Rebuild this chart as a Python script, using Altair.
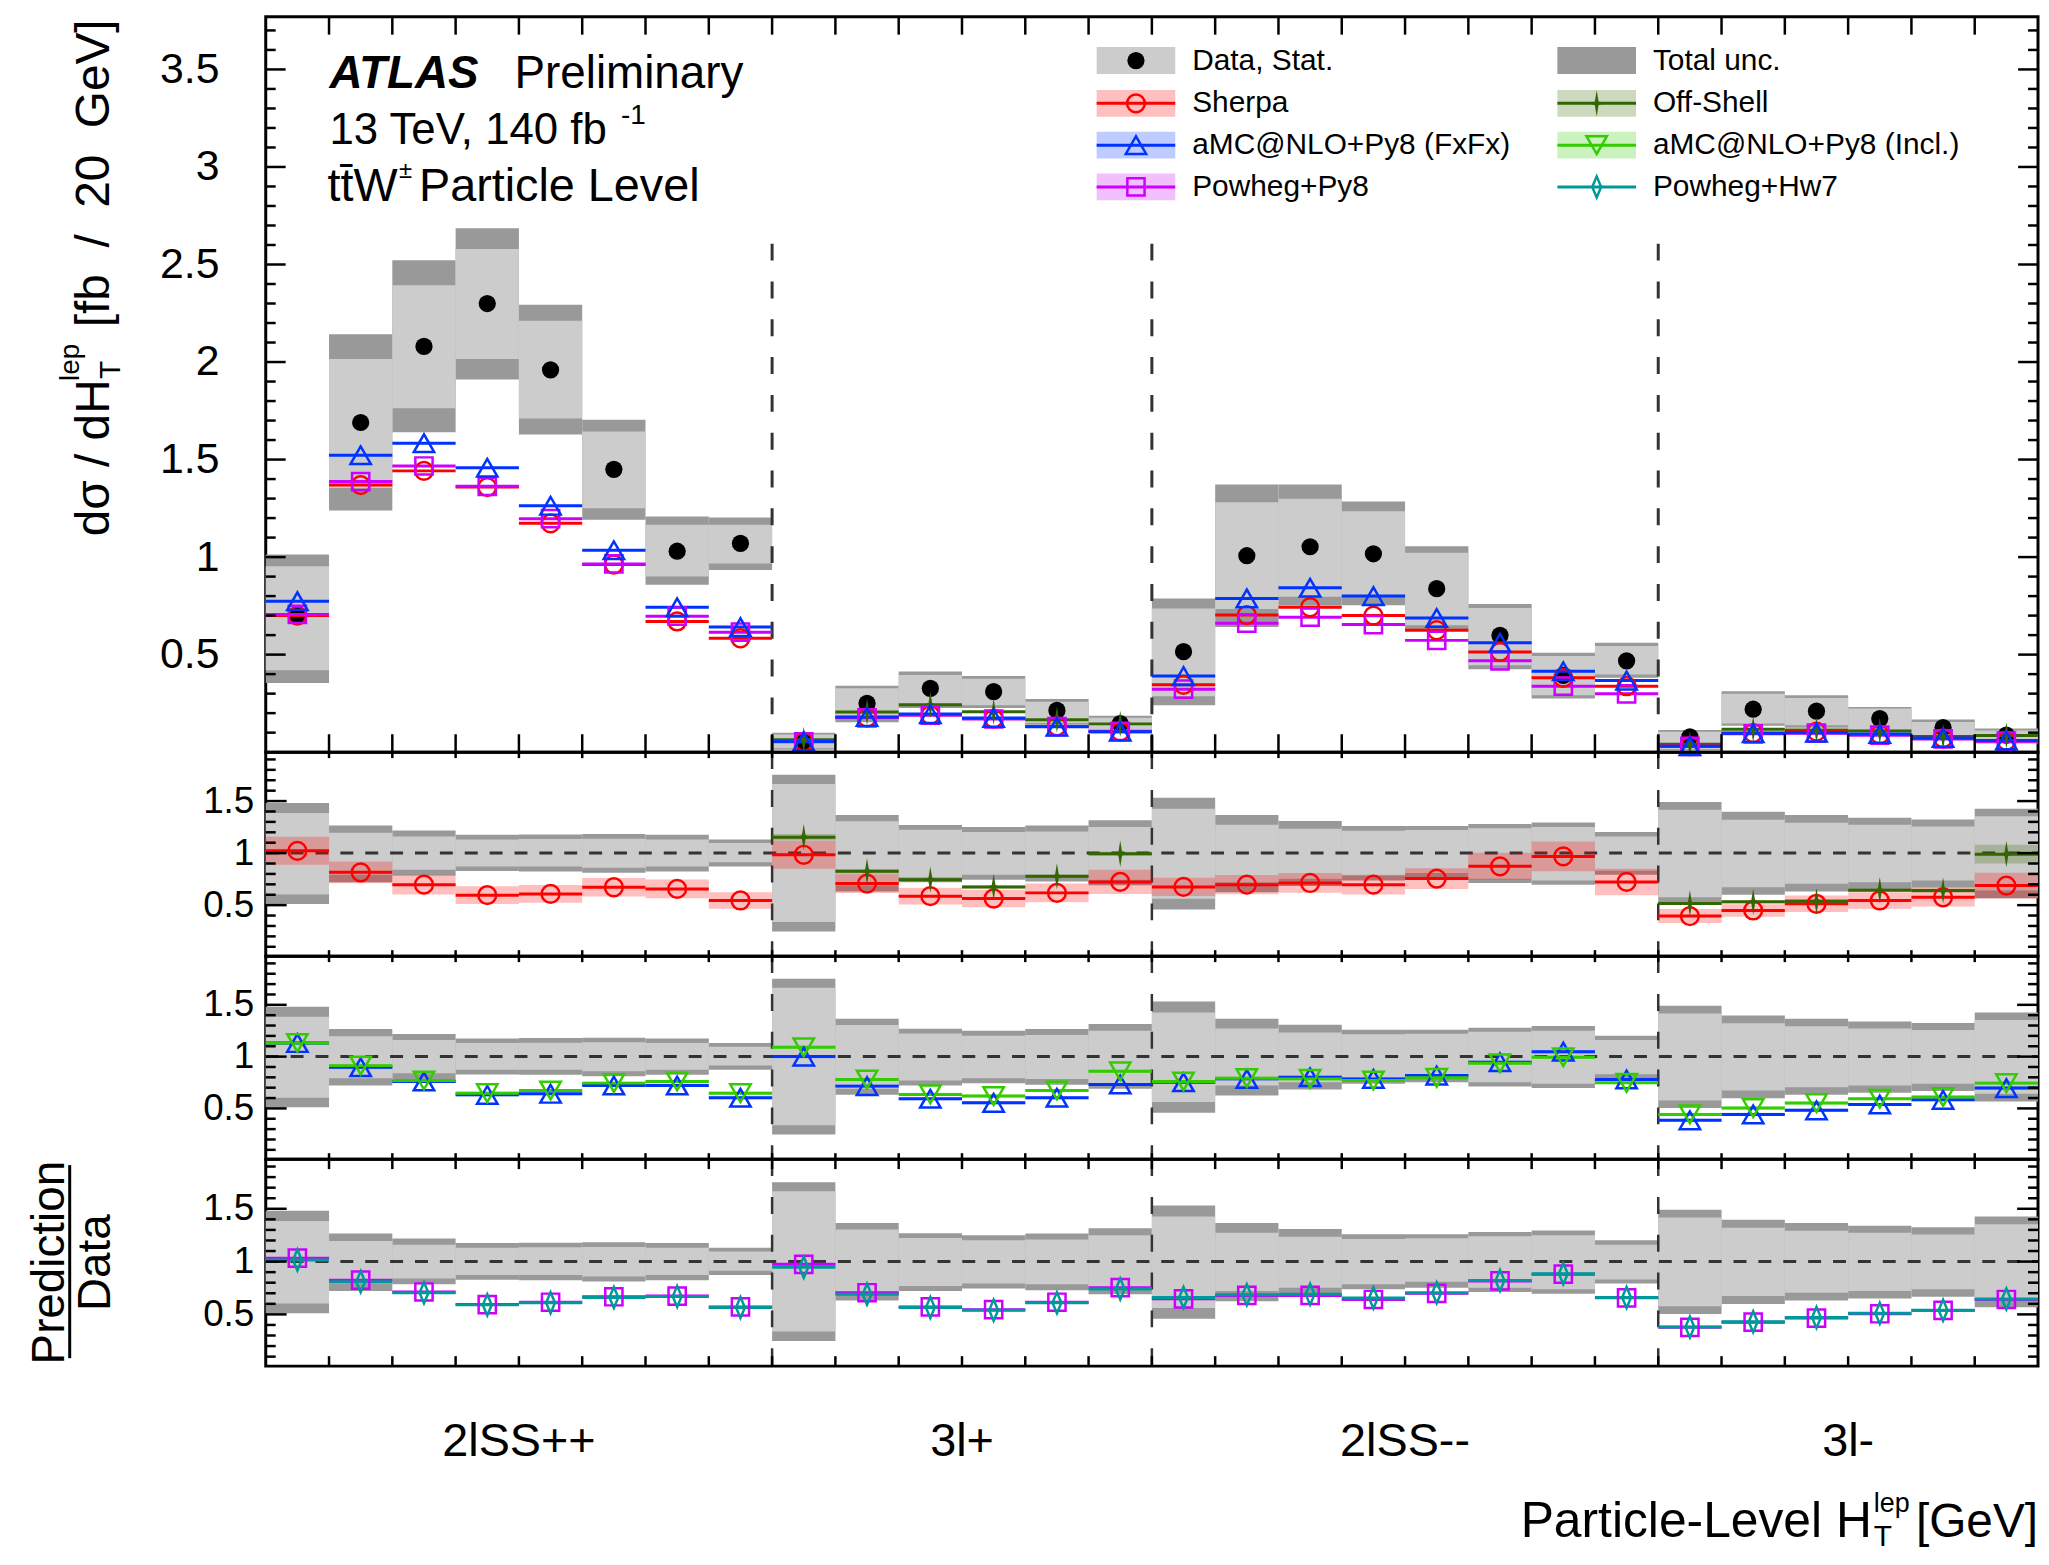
import altair as alt
import pandas as pd

FONT = "Liberation Sans"
W = 1781
H_TOP, H_R1, H_R2, H_R3 = 739, 205, 204, 208
N_BINS = 28

region_labels = ["2lSS++", "3l+", "2lSS--", "3l-"]
region_centers = [4, 11, 18, 25]
divider_edges = [8, 14, 22]
three_lep_bins = [8, 9, 10, 11, 12, 13, 22, 23, 24, 25, 26, 27]

# ---------------- top panel: d sigma / dHT [fb / 20 GeV]
data_xs = [0.70, 1.69, 2.08, 2.30, 1.96, 1.45, 1.03, 1.07,
           0.055, 0.25, 0.327, 0.31, 0.214, 0.146,
           0.515, 1.007, 1.053, 1.017, 0.838, 0.599, 0.394, 0.468,
           0.078, 0.22, 0.21, 0.172, 0.126, 0.087]
tot_hi = [1.013, 2.142, 2.522, 2.686, 2.294, 1.704, 1.208, 1.203,
          0.10, 0.341, 0.414, 0.39, 0.272, 0.186,
          0.788, 1.372, 1.372, 1.285, 1.056, 0.759, 0.51, 0.561,
          0.114, 0.312, 0.292, 0.232, 0.167, 0.121]
stat_hi = [0.953, 2.016, 2.394, 2.58, 2.212, 1.644, 1.166, 1.166,
           0.09, 0.328, 0.396, 0.376, 0.259, 0.177,
           0.737, 1.281, 1.299, 1.235, 1.022, 0.739, 0.493, 0.544,
           0.104, 0.299, 0.278, 0.224, 0.155, 0.111]
stat_lo = [0.42, 1.354, 1.763, 2.015, 1.71, 1.25, 0.901, 0.967,
           0.02, 0.168, 0.241, 0.241, 0.15, 0.113,
           0.286, 0.734, 0.797, 0.804, 0.65, 0.445, 0.292, 0.398,
           0.015, 0.147, 0.138, 0.115, 0.087, 0.053]
tot_lo = [0.354, 1.239, 1.64, 1.911, 1.628, 1.192, 0.858, 0.934,
          0.012, 0.153, 0.226, 0.226, 0.14, 0.104,
          0.241, 0.642, 0.752, 0.753, 0.625, 0.425, 0.275, 0.381,
          0.008, 0.135, 0.125, 0.104, 0.078, 0.044]
sherpa_xs = [0.70, 1.369, 1.442, 1.359, 1.173, 0.962, 0.670, 0.584,
             0.054, 0.177, 0.19, 0.172, 0.132, 0.105,
             0.345, 0.703, 0.743, 0.70, 0.625, 0.514, 0.381, 0.338,
             0.031, 0.098, 0.105, 0.09, 0.071, 0.058]
fxfx_xs = [0.774, 1.522, 1.584, 1.458, 1.263, 1.035, 0.743, 0.641,
           0.055, 0.18, 0.195, 0.175, 0.13, 0.105,
           0.39, 0.788, 0.843, 0.80, 0.688, 0.561, 0.415, 0.367,
           0.03, 0.097, 0.10, 0.093, 0.073, 0.06]
powheg_xs = [0.706, 1.387, 1.467, 1.363, 1.197, 0.965, 0.697, 0.615,
             0.053, 0.176, 0.19, 0.17, 0.131, 0.107,
             0.323, 0.661, 0.692, 0.654, 0.573, 0.468, 0.338, 0.299,
             0.03, 0.094, 0.097, 0.087, 0.068, 0.056]
offshell_xs = [0.063, 0.206, 0.243, 0.207, 0.166, 0.145,
               0.04, 0.117, 0.113, 0.108, 0.08, 0.085]

# ---------------- ratio panels: prediction / data
r_tot_hi = [1.481, 1.266, 1.218, 1.176, 1.179, 1.183, 1.176, 1.131,
            1.752, 1.366, 1.269, 1.25, 1.266, 1.316,
            1.532, 1.365, 1.308, 1.26, 1.26, 1.279, 1.295, 1.202,
            1.49, 1.397, 1.365, 1.34, 1.324, 1.426]
r_stat_hi = [1.385, 1.196, 1.160, 1.131, 1.135, 1.138, 1.131, 1.096,
             1.665, 1.305, 1.224, 1.202, 1.208, 1.25,
             1.426, 1.272, 1.234, 1.215, 1.221, 1.240, 1.25, 1.160,
             1.417, 1.321, 1.292, 1.272, 1.256, 1.353]
r_stat_lo = [0.603, 0.792, 0.840, 0.872, 0.872, 0.859, 0.872, 0.913,
             0.338, 0.689, 0.769, 0.792, 0.785, 0.745,
             0.561, 0.721, 0.753, 0.785, 0.808, 0.753, 0.737, 0.830,
             0.577, 0.673, 0.705, 0.721, 0.737, 0.641]
r_tot_lo = [0.510, 0.721, 0.785, 0.827, 0.824, 0.811, 0.824, 0.872,
            0.247, 0.631, 0.721, 0.744, 0.728, 0.69,
            0.458, 0.625, 0.683, 0.737, 0.753, 0.712, 0.696, 0.792,
            0.503, 0.599, 0.631, 0.651, 0.667, 0.567]

r_sherpa = [1.022, 0.815, 0.697, 0.596, 0.608, 0.672, 0.656, 0.545,
            0.984, 0.707, 0.586, 0.564, 0.618, 0.723,
            0.675, 0.697, 0.713, 0.697, 0.755, 0.873, 0.968, 0.723,
            0.395, 0.449, 0.513, 0.545, 0.576, 0.688]
r_sherpa_unc = [0.135, 0.105, 0.095, 0.085, 0.085, 0.09, 0.09, 0.08,
                0.134, 0.09, 0.08, 0.083, 0.09, 0.116,
                0.088, 0.092, 0.095, 0.094, 0.10, 0.13, 0.143, 0.127,
                0.067, 0.06, 0.08, 0.08, 0.088, 0.124]
r_offshell = [1.153, 0.825, 0.745, 0.675, 0.777, 0.994,
              0.516, 0.532, 0.538, 0.643, 0.640, 0.990]
r_offshell_unc = [0.03, 0.02, 0.015, 0.015, 0.015, 0.02,
                  0.015, 0.015, 0.02, 0.015, 0.02, 0.09]

r_fxfx = [1.131, 0.897, 0.760, 0.631, 0.641, 0.721, 0.721, 0.603,
          1.0, 0.715, 0.593, 0.554, 0.603, 0.731,
          0.753, 0.785, 0.801, 0.785, 0.817, 0.946, 1.048, 0.779,
          0.385, 0.442, 0.481, 0.538, 0.583, 0.696]
r_incl = [1.131, 0.913, 0.769, 0.647, 0.673, 0.744, 0.760, 0.647,
          1.090, 0.779, 0.635, 0.619, 0.673, 0.859,
          0.760, 0.792, 0.785, 0.769, 0.795, 0.936, 0.994, 0.747,
          0.442, 0.503, 0.551, 0.593, 0.609, 0.744]
r_amc_unc = [0.015] * 28

r_powheg = [1.032, 0.824, 0.712, 0.593, 0.615, 0.667, 0.673, 0.571,
            0.974, 0.705, 0.571, 0.545, 0.615, 0.753,
            0.647, 0.679, 0.679, 0.641, 0.699, 0.817, 0.881, 0.657,
            0.378, 0.426, 0.465, 0.506, 0.538, 0.641]
r_hw7 = [1.015, 0.81, 0.705, 0.59, 0.61, 0.66, 0.67, 0.565,
         0.946, 0.69, 0.565, 0.54, 0.61, 0.74,
         0.66, 0.685, 0.69, 0.655, 0.705, 0.82, 0.885, 0.66,
         0.38, 0.43, 0.47, 0.51, 0.54, 0.645]
r_powheg_unc = [0.012] * 28

# ---------------- styles
RED, BLUE, MAG = "#ff0000", "#0033ff", "#cc00ff"
DKGREEN, GREEN, TEAL = "#336600", "#33cc00", "#009999"
LIGHT, DARK, DASH = "#cccccc", "#999999", "#333333"
STAR = "M0,-1L0.14,-0.14L0.55,0L0.14,0.14L0,1L-0.14,0.14L-0.55,0L-0.14,-0.14Z"
DIAMOND = "M0,-1L0.42,0L0,1L-0.42,0Z"
NB = "\u00a0"

base = pd.DataFrame({"lo": list(range(N_BINS)), "hi": list(range(1, N_BINS + 1))})
base["c"] = base["lo"] + 0.5

xs = alt.Scale(domain=[0, N_BINS], nice=False, zero=False)
one = pd.DataFrame({"k": [0]})


def X(f):
    return alt.X(f"{f}:Q", scale=xs, axis=None)


def Y(f, ys, ax):
    return alt.Y(f"{f}:Q", scale=ys, axis=ax)


def yaxis(values, size, pad):
    return alt.Axis(values=values, format="~g", ticks=False, domain=False, grid=False,
                    labelFont=FONT, labelFontSize=size, labelColor="black",
                    labelPadding=pad, title=None)


def band(df, lo, hi, ys, ax, color, opacity=1.0):
    return alt.Chart(df).mark_rect(color=color, opacity=opacity, strokeWidth=0).encode(
        x=X("lo"), x2="hi", y=Y(lo, ys, ax), y2=hi)


def hline(df, f, ys, ax, color, w=3):
    return alt.Chart(df).mark_rule(color=color, strokeWidth=w).encode(
        x=X("lo"), x2="hi", y=Y(f, ys, ax))


def marker(df, f, ys, ax, color, shape, size, filled=False, sw=2.5):
    return alt.Chart(df).mark_point(shape=shape, size=size, filled=filled, color=color,
                                    strokeWidth=sw, opacity=1).encode(x=X("c"), y=Y(f, ys, ax))


def frame_ticks(ys, ax, H, majors, minors, maj_len, min_len, top_len, bot_len):
    layers = []
    for vals, L in ((majors, maj_len), (minors, min_len)):
        d = pd.DataFrame({"v": vals})
        layers.append(alt.Chart(d).mark_rule(color="black", strokeWidth=2.5).encode(
            y=Y("v", ys, ax), x=alt.value(0), x2=alt.value(L)))
        layers.append(alt.Chart(d).mark_rule(color="black", strokeWidth=2.5).encode(
            y=Y("v", ys, ax), x=alt.value(W), x2=alt.value(W - L)))
    e = pd.DataFrame({"e": list(range(1, N_BINS))})
    layers.append(alt.Chart(e).mark_rule(color="black", strokeWidth=2.5).encode(
        x=X("e"), y=alt.value(H), y2=alt.value(H - bot_len)))
    layers.append(alt.Chart(e).mark_rule(color="black", strokeWidth=2.5).encode(
        x=X("e"), y=alt.value(0), y2=alt.value(top_len)))
    return layers


def txt(text, x, y, size, angle=0, align="left", baseline="alphabetic",
        weight="normal", style="normal", color="black"):
    return alt.Chart(one).mark_text(text=text, font=FONT, fontSize=size, angle=angle,
                                    align=align, baseline=baseline, fontWeight=weight,
                                    fontStyle=style, color=color).encode(
        x=alt.value(x), y=alt.value(y))


def vrule(x, y0, y1, color="black", w=2):
    return alt.Chart(one).mark_rule(color=color, strokeWidth=w).encode(
        x=alt.value(x), y=alt.value(y0), y2=alt.value(y1))


# ================= TOP PANEL
top_df = base.copy()
top_df["data"] = data_xs
top_df["tlo"], top_df["thi"] = tot_lo, tot_hi
top_df["slo"], top_df["shi"] = stat_lo, stat_hi
top_df["sherpa"], top_df["fxfx"], top_df["powheg"] = sherpa_xs, fxfx_xs, powheg_xs
off_df = base.iloc[three_lep_bins].copy()
off_df["off"] = offshell_xs

ys0 = alt.Scale(domain=[0, 3.77], nice=False, zero=False)
ax0 = yaxis([0.5, 1, 1.5, 2, 2.5, 3, 3.5], 43, 47)
div_top = pd.DataFrame({"e": divider_edges, "y0": [0, 0, 0], "y1": [2.66, 2.66, 2.66]})

top_layers = [
    band(top_df, "tlo", "thi", ys0, ax0, DARK),
    band(top_df, "slo", "shi", ys0, ax0, LIGHT),
    alt.Chart(div_top).mark_rule(color=DASH, strokeWidth=3, strokeDash=[17, 21]).encode(
        x=X("e"), y=Y("y0", ys0, ax0), y2="y1"),
    marker(top_df, "data", ys0, ax0, "black", "circle", 300, filled=True),
    hline(off_df, "off", ys0, ax0, DKGREEN),
    hline(top_df, "sherpa", ys0, ax0, RED),
    hline(top_df, "powheg", ys0, ax0, MAG),
    hline(top_df, "fxfx", ys0, ax0, BLUE),
    marker(off_df, "off", ys0, ax0, DKGREEN, STAR, 700, filled=True, sw=0.5),
    marker(top_df, "sherpa", ys0, ax0, RED, "circle", 320),
    marker(top_df, "powheg", ys0, ax0, MAG, "square", 300),
    marker(top_df, "fxfx", ys0, ax0, BLUE, "triangle-up", 420),
]
top_layers += frame_ticks(ys0, ax0, H_TOP, [0.5, 1, 1.5, 2, 2.5, 3, 3.5],
                          [round(i * 0.1, 1) for i in range(1, 38) if i % 5], 20, 10, 18, 18)

# ATLAS label
top_layers += [
    txt("ATLAS", 64, 72, 46, weight="bold", style="italic"),
    txt("Preliminary", 250, 72, 46),
    txt("13 TeV, 140 fb", 64, 128, 44),
    txt("-1", 357, 108, 28),
    txt("tt\u0304W", 62, 185, 47),
    txt("\u00b1", 134, 162, 24),
    txt("Particle Level", 154, 185, 47),
]

# legend
leg_rows = [44, 87, 129, 171]
leg_cols = [835, 1298]
BW, BH = 79, 27
legend = [
    # label, col, row, box colour, box opacity, line colour, shape, marker colour, filled, size
    ("Data, Stat.", 0, 0, LIGHT, 1.0, None, "circle", "black", True, 300),
    ("Sherpa", 0, 1, RED, 0.25, RED, "circle", RED, False, 320),
    ("aMC@NLO+Py8 (FxFx)", 0, 2, BLUE, 0.25, BLUE, "triangle-up", BLUE, False, 420),
    ("Powheg+Py8", 0, 3, MAG, 0.25, MAG, "square", MAG, False, 300),
    ("Total unc.", 1, 0, DARK, 1.0, None, None, None, False, 0),
    ("Off-Shell", 1, 1, DKGREEN, 0.25, DKGREEN, STAR, DKGREEN, True, 700),
    ("aMC@NLO+Py8 (Incl.)", 1, 2, GREEN, 0.25, GREEN, "triangle-down", GREEN, False, 420),
    ("Powheg+Hw7", 1, 3, None, 0, TEAL, DIAMOND, TEAL, False, 450),
]
for lab, col, row, bcol, bop, lcol, shp, mcol, filled, msize in legend:
    x0 = leg_cols[col]
    cy = leg_rows[row]
    if bcol is not None:
        top_layers.append(alt.Chart(one).mark_rect(color=bcol, opacity=bop).encode(
            x=alt.value(x0), x2=alt.value(x0 + BW), y=alt.value(cy - BH / 2), y2=alt.value(cy + BH / 2)))
    if lcol is not None:
        top_layers.append(alt.Chart(one).mark_rule(color=lcol, strokeWidth=3).encode(
            x=alt.value(x0), x2=alt.value(x0 + BW), y=alt.value(cy)))
    if shp is not None:
        top_layers.append(alt.Chart(one).mark_point(shape=shp, size=msize, filled=filled, color=mcol,
                                                    strokeWidth=2.5 if not filled else 0.5,
                                                    opacity=1).encode(
            x=alt.value(x0 + BW / 2), y=alt.value(cy)))
    top_layers.append(txt(lab, x0 + BW + 17, cy, 30, baseline="middle"))

# y title (rotated)
top_layers += [
    txt("d\u03c3 / dH", -158, 522, 48, angle=270),
    txt("T", -146, 364, 30, angle=270),
    txt("lep", -188, 366, 28, angle=270),
    txt("[fb" + NB + NB + "/" + NB + NB + "20" + NB + NB + "GeV]", -158, 312, 48, angle=270),
]

top = alt.layer(*top_layers).properties(width=W, height=H_TOP)


# ================= RATIO PANELS
def ratio_frame(H):
    ys = alt.Scale(domain=[0.01, 1.97], nice=False, zero=False)
    ax = yaxis([0.5, 1, 1.5], 37, 12)
    df = base.copy()
    df["tlo"], df["thi"] = r_tot_lo, r_tot_hi
    df["slo"], df["shi"] = r_stat_lo, r_stat_hi
    layers = [
        band(df, "tlo", "thi", ys, ax, DARK),
        band(df, "slo", "shi", ys, ax, LIGHT),
    ]
    return ys, ax, layers


def ratio_overlays(ys, ax, H):
    one_line = pd.DataFrame({"x0": [0], "x1": [N_BINS], "y": [1]})
    div = pd.DataFrame({"e": divider_edges})
    return [
        alt.Chart(one_line).mark_rule(color=DASH, strokeWidth=3, strokeDash=[13, 12]).encode(
            x=X("x0"), x2="x1", y=Y("y", ys, ax)),
        alt.Chart(div).mark_rule(color=DASH, strokeWidth=2.5, strokeDash=[17, 21]).encode(
            x=X("e"), y=alt.value(0), y2=alt.value(H)),
    ]


def ratio_ticks(ys, ax, H, tlen):
    return frame_ticks(ys, ax, H, [0.5, 1, 1.5],
                       [round(i * 0.1, 1) for i in range(1, 20) if i % 5], 21, 10, tlen, tlen)


# ---- ratio 1: Sherpa + Off-Shell
ys1, ax1, r1_layers = ratio_frame(H_R1)
d1 = base.copy()
d1["v"] = r_sherpa
d1["lo_b"] = [v - u for v, u in zip(r_sherpa, r_sherpa_unc)]
d1["hi_b"] = [v + u for v, u in zip(r_sherpa, r_sherpa_unc)]
o1 = base.iloc[three_lep_bins].copy()
o1["v"] = r_offshell
o1["lo_b"] = [v - u for v, u in zip(r_offshell, r_offshell_unc)]
o1["hi_b"] = [v + u for v, u in zip(r_offshell, r_offshell_unc)]
r1_layers += ratio_overlays(ys1, ax1, H_R1)
r1_layers += [
    band(d1, "lo_b", "hi_b", ys1, ax1, RED, 0.25),
    band(o1, "lo_b", "hi_b", ys1, ax1, DKGREEN, 0.25),
    hline(d1, "v", ys1, ax1, RED),
    hline(o1, "v", ys1, ax1, DKGREEN),
    marker(d1, "v", ys1, ax1, RED, "circle", 320),
    marker(o1, "v", ys1, ax1, DKGREEN, STAR, 700, filled=True, sw=0.5),
]
r1_layers += ratio_ticks(ys1, ax1, H_R1, 6)
r1 = alt.layer(*r1_layers).properties(width=W, height=H_R1)

# ---- ratio 2: aMC@NLO FxFx + Incl.
ys2, ax2, r2_layers = ratio_frame(H_R2)
d2 = base.copy()
d2["f"], d2["i"] = r_fxfx, r_incl
d2["flo"] = [v - u for v, u in zip(r_fxfx, r_amc_unc)]
d2["fhi"] = [v + u for v, u in zip(r_fxfx, r_amc_unc)]
d2["ilo"] = [v - u for v, u in zip(r_incl, r_amc_unc)]
d2["ihi"] = [v + u for v, u in zip(r_incl, r_amc_unc)]
r2_layers += ratio_overlays(ys2, ax2, H_R2)
r2_layers += [
    band(d2, "flo", "fhi", ys2, ax2, BLUE, 0.25),
    band(d2, "ilo", "ihi", ys2, ax2, GREEN, 0.25),
    hline(d2, "f", ys2, ax2, BLUE),
    hline(d2, "i", ys2, ax2, GREEN),
    marker(d2, "f", ys2, ax2, BLUE, "triangle-up", 420),
    marker(d2, "i", ys2, ax2, GREEN, "triangle-down", 420),
]
r2_layers += ratio_ticks(ys2, ax2, H_R2, 6)
r2 = alt.layer(*r2_layers).properties(width=W, height=H_R2)

# ---- ratio 3: Powheg+Py8 + Powheg+Hw7
ys3, ax3, r3_layers = ratio_frame(H_R3)
d3 = base.copy()
d3["p"], d3["h"] = r_powheg, r_hw7
d3["plo"] = [v - u for v, u in zip(r_powheg, r_powheg_unc)]
d3["phi"] = [v + u for v, u in zip(r_powheg, r_powheg_unc)]
r3_layers += ratio_overlays(ys3, ax3, H_R3)
r3_layers += [
    band(d3, "plo", "phi", ys3, ax3, MAG, 0.25),
    hline(d3, "p", ys3, ax3, MAG),
    hline(d3, "h", ys3, ax3, TEAL),
    marker(d3, "p", ys3, ax3, MAG, "square", 300),
    marker(d3, "h", ys3, ax3, TEAL, DIAMOND, 450),
]
r3_layers += ratio_ticks(ys3, ax3, H_R3, 10)

# region labels under the bottom panel
reg_df = pd.DataFrame({"c": region_centers, "lab": region_labels})
r3_layers.append(alt.Chart(reg_df).mark_text(font=FONT, fontSize=47, baseline="middle",
                                             align="center", color="black").encode(
    x=X("c"), y=alt.value(284), text="lab:N"))
# x title
r3_layers += [
    txt("[GeV]", W, 380, 48, align="right"),
    txt("lep", 1616, 355, 27),
    txt("T", 1616, 389, 30),
    txt("Particle-Level H", 1614, 380, 50, align="right"),
]
# Prediction / Data
r3_layers += [
    txt("Prediction", -203, 104, 46, angle=270, align="center"),
    vrule(-197, 6, 200, "black", 3),
    txt("Data", -157, 104, 46, angle=270, align="center"),
]
r3 = alt.layer(*r3_layers).properties(width=W, height=H_R3)

chart = alt.vconcat(top, r1, r2, r3, spacing=0, bounds="flush").properties(
    padding={"left": 17, "top": 2, "right": 0, "bottom": 0}
).configure_view(stroke="black", strokeWidth=3)

chart.save("out.html", embed_options={"renderer": "svg", "actions": False})
